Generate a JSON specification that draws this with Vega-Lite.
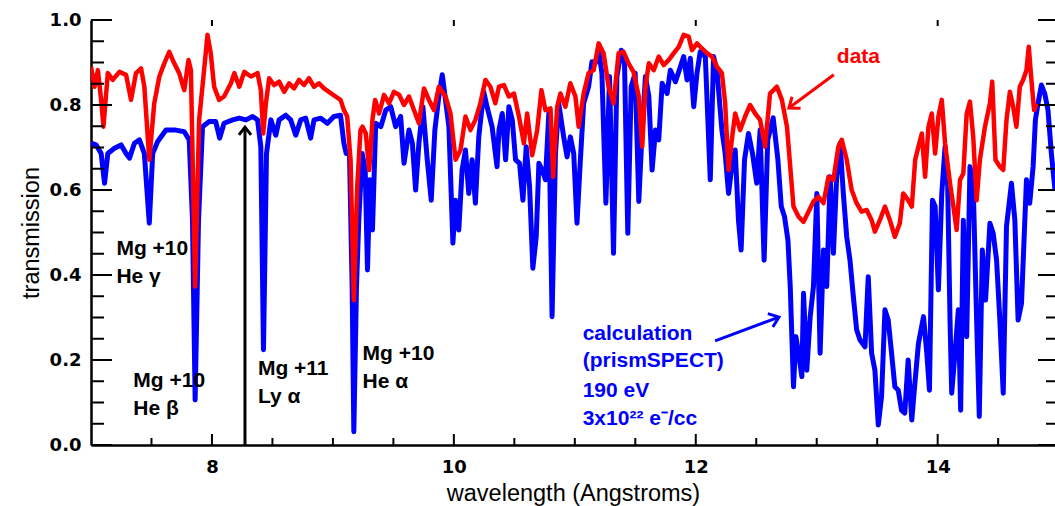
{
"$schema": "https://vega.github.io/schema/vega-lite/v6.json",
"width": 964, "height": 425,
"autosize": {"type": "none"},
"padding": {"left": 91, "top": 20, "right": 0, "bottom": 61},
"background": "white",
"config": {
 "view": {"stroke": null},
 "axis": {"grid": false, "domainColor": "black", "domainWidth": 2.5, "labelFont": "DejaVu Sans", "labelFontWeight": "bold", "labelFontSize": 18, "labelColor": "black", "titleColor": "black", "titleFont": "Liberation Sans", "titleFontWeight": "normal", "titleFontSize": 23.5}
},
"datasets": {
 "data": [
  {"x":7.0,"y":0.89},{"x":7.029,"y":0.843},{"x":7.057,"y":0.882},{"x":7.084,"y":0.812},{"x":7.103,"y":0.749},{"x":7.139,"y":0.875},{"x":7.18,"y":0.859},{"x":7.235,"y":0.878},{"x":7.29,"y":0.871},{"x":7.331,"y":0.812},{"x":7.372,"y":0.875},{"x":7.414,"y":0.886},{"x":7.441,"y":0.843},{"x":7.482,"y":0.671},{"x":7.523,"y":0.804},{"x":7.565,"y":0.867},{"x":7.606,"y":0.898},{"x":7.647,"y":0.925},{"x":7.688,"y":0.898},{"x":7.729,"y":0.875},{"x":7.771,"y":0.835},{"x":7.806,"y":0.906},{"x":7.826,"y":0.882},{"x":7.861,"y":0.373},{"x":7.894,"y":0.765},{"x":7.935,"y":0.882},{"x":7.963,"y":0.965},{"x":7.99,"y":0.922},{"x":8.018,"y":0.843},{"x":8.059,"y":0.812},{"x":8.1,"y":0.82},
  {"x":8.157,"y":0.851},{"x":8.185,"y":0.875},{"x":8.226,"y":0.843},{"x":8.267,"y":0.878},{"x":8.322,"y":0.867},{"x":8.377,"y":0.875},{"x":8.404,"y":0.835},{"x":8.424,"y":0.733},{"x":8.446,"y":0.804},{"x":8.473,"y":0.863},{"x":8.514,"y":0.847},{"x":8.555,"y":0.855},{"x":8.597,"y":0.831},{"x":8.638,"y":0.851},{"x":8.679,"y":0.839},{"x":8.72,"y":0.859},{"x":8.761,"y":0.847},{"x":8.802,"y":0.863},{"x":8.844,"y":0.843},{"x":8.885,"y":0.851},{"x":8.926,"y":0.839},{"x":8.967,"y":0.831},{"x":9.022,"y":0.82},{"x":9.063,"y":0.812},{"x":9.091,"y":0.788},{"x":9.118,"y":0.773},{"x":9.146,"y":0.671},{"x":9.173,"y":0.341},{"x":9.201,"y":0.608},{"x":9.228,"y":0.741},
  {"x":9.245,"y":0.749},{"x":9.272,"y":0.733},{"x":9.3,"y":0.647},{"x":9.327,"y":0.765},{"x":9.349,"y":0.812},{"x":9.382,"y":0.78},{"x":9.423,"y":0.824},{"x":9.464,"y":0.804},{"x":9.505,"y":0.831},{"x":9.547,"y":0.824},{"x":9.588,"y":0.8},{"x":9.629,"y":0.82},{"x":9.67,"y":0.788},{"x":9.711,"y":0.757},{"x":9.753,"y":0.839},{"x":9.794,"y":0.812},{"x":9.835,"y":0.788},{"x":9.876,"y":0.843},{"x":9.931,"y":0.82},{"x":9.972,"y":0.78},{"x":10.014,"y":0.671},{"x":10.055,"y":0.694},{"x":10.096,"y":0.773},{"x":10.137,"y":0.741},{"x":10.178,"y":0.765},{"x":10.219,"y":0.804},{"x":10.261,"y":0.859},{"x":10.302,"y":0.843},{"x":10.343,"y":0.804},
  {"x":10.373,"y":0.843},{"x":10.414,"y":0.847},{"x":10.455,"y":0.82},{"x":10.497,"y":0.827},{"x":10.538,"y":0.773},{"x":10.579,"y":0.71},{"x":10.606,"y":0.78},{"x":10.648,"y":0.682},{"x":10.689,"y":0.741},{"x":10.724,"y":0.835},{"x":10.757,"y":0.788},{"x":10.799,"y":0.792},{"x":10.821,"y":0.631},{"x":10.854,"y":0.796},{"x":10.881,"y":0.827},{"x":10.922,"y":0.796},{"x":10.963,"y":0.851},{"x":11.005,"y":0.82},{"x":11.032,"y":0.749},{"x":11.073,"y":0.827},{"x":11.114,"y":0.875},{"x":11.156,"y":0.882},{"x":11.197,"y":0.945},{"x":11.238,"y":0.922},{"x":11.279,"y":0.843},{"x":11.32,"y":0.804},{"x":11.362,"y":0.922},{"x":11.403,"y":0.925},{"x":11.444,"y":0.898},{"x":11.485,"y":0.878},
  {"x":11.529,"y":0.82},{"x":11.557,"y":0.702},{"x":11.584,"y":0.843},{"x":11.612,"y":0.898},{"x":11.653,"y":0.882},{"x":11.694,"y":0.914},{"x":11.735,"y":0.894},{"x":11.777,"y":0.906},{"x":11.818,"y":0.922},{"x":11.859,"y":0.937},{"x":11.9,"y":0.965},{"x":11.941,"y":0.961},{"x":11.969,"y":0.929},{"x":12.01,"y":0.945},{"x":12.051,"y":0.933},{"x":12.092,"y":0.922},{"x":12.134,"y":0.914},{"x":12.175,"y":0.89},{"x":12.216,"y":0.875},{"x":12.243,"y":0.804},{"x":12.271,"y":0.647},{"x":12.298,"y":0.718},{"x":12.326,"y":0.78},{"x":12.367,"y":0.741},{"x":12.408,"y":0.773},{"x":12.449,"y":0.8},{"x":12.491,"y":0.78},{"x":12.532,"y":0.765},{"x":12.573,"y":0.702},{"x":12.614,"y":0.827},
  {"x":12.671,"y":0.843},{"x":12.712,"y":0.812},{"x":12.754,"y":0.749},{"x":12.781,"y":0.655},{"x":12.808,"y":0.561},{"x":12.85,"y":0.537},{"x":12.891,"y":0.525},{"x":12.932,"y":0.549},{"x":12.973,"y":0.573},{"x":13.014,"y":0.584},{"x":13.056,"y":0.569},{"x":13.097,"y":0.631},{"x":13.138,"y":0.624},{"x":13.179,"y":0.702},{"x":13.207,"y":0.718},{"x":13.248,"y":0.671},{"x":13.289,"y":0.6},{"x":13.33,"y":0.569},{"x":13.371,"y":0.549},{"x":13.413,"y":0.553},{"x":13.454,"y":0.529},{"x":13.481,"y":0.502},{"x":13.522,"y":0.529},{"x":13.564,"y":0.561},{"x":13.605,"y":0.529},{"x":13.646,"y":0.49},{"x":13.687,"y":0.522},{"x":13.715,"y":0.592},{"x":13.756,"y":0.576},
  {"x":13.786,"y":0.561},{"x":13.814,"y":0.671},{"x":13.841,"y":0.702},{"x":13.869,"y":0.733},{"x":13.896,"y":0.631},{"x":13.924,"y":0.749},{"x":13.951,"y":0.78},{"x":13.979,"y":0.686},{"x":14.006,"y":0.773},{"x":14.034,"y":0.812},{"x":14.061,"y":0.71},{"x":14.102,"y":0.616},{"x":14.13,"y":0.561},{"x":14.157,"y":0.506},{"x":14.185,"y":0.624},{"x":14.212,"y":0.639},{"x":14.24,"y":0.78},{"x":14.267,"y":0.808},{"x":14.294,"y":0.725},{"x":14.322,"y":0.576},{"x":14.349,"y":0.671},{"x":14.391,"y":0.749},{"x":14.432,"y":0.804},{"x":14.451,"y":0.855},{"x":14.478,"y":0.671},{"x":14.514,"y":0.655},{"x":14.542,"y":0.647},{"x":14.569,"y":0.765},{"x":14.597,"y":0.831},{"x":14.624,"y":0.796},{"x":14.651,"y":0.749},{"x":14.679,"y":0.843},{"x":14.706,"y":0.859},{"x":14.734,"y":0.882},{"x":14.753,"y":0.937},{"x":14.775,"y":0.859},{"x":14.797,"y":0.788},{"x":14.816,"y":0.804}
 ],
 "calc": [
  {"x":7.0,"y":0.71},{"x":7.043,"y":0.706},{"x":7.084,"y":0.686},{"x":7.112,"y":0.616},{"x":7.139,"y":0.686},{"x":7.194,"y":0.698},{"x":7.249,"y":0.706},{"x":7.29,"y":0.686},{"x":7.318,"y":0.675},{"x":7.359,"y":0.71},{"x":7.4,"y":0.718},{"x":7.441,"y":0.686},{"x":7.482,"y":0.522},{"x":7.51,"y":0.686},{"x":7.551,"y":0.714},{"x":7.62,"y":0.741},{"x":7.702,"y":0.741},{"x":7.771,"y":0.737},{"x":7.812,"y":0.718},{"x":7.839,"y":0.529},{"x":7.861,"y":0.106},{"x":7.889,"y":0.529},{"x":7.922,"y":0.749},{"x":7.977,"y":0.761},{"x":8.031,"y":0.761},{"x":8.064,"y":0.722},{"x":8.1,"y":0.757},
  {"x":8.171,"y":0.765},{"x":8.226,"y":0.769},{"x":8.281,"y":0.765},{"x":8.336,"y":0.773},{"x":8.377,"y":0.765},{"x":8.404,"y":0.702},{"x":8.426,"y":0.224},{"x":8.451,"y":0.686},{"x":8.487,"y":0.765},{"x":8.528,"y":0.729},{"x":8.555,"y":0.765},{"x":8.61,"y":0.776},{"x":8.651,"y":0.765},{"x":8.693,"y":0.729},{"x":8.734,"y":0.765},{"x":8.775,"y":0.769},{"x":8.816,"y":0.722},{"x":8.844,"y":0.765},{"x":8.899,"y":0.769},{"x":8.954,"y":0.757},{"x":9.008,"y":0.773},{"x":9.063,"y":0.776},{"x":9.091,"y":0.71},{"x":9.11,"y":0.686},{"x":9.137,"y":0.686},{"x":9.159,"y":0.373},{"x":9.173,"y":0.031},{"x":9.195,"y":0.373},{"x":9.214,"y":0.529},{"x":9.242,"y":0.686},
  {"x":9.267,"y":0.647},{"x":9.286,"y":0.412},{"x":9.305,"y":0.624},{"x":9.327,"y":0.506},{"x":9.354,"y":0.757},{"x":9.396,"y":0.749},{"x":9.437,"y":0.788},{"x":9.478,"y":0.796},{"x":9.519,"y":0.749},{"x":9.56,"y":0.773},{"x":9.588,"y":0.663},{"x":9.629,"y":0.741},{"x":9.657,"y":0.71},{"x":9.684,"y":0.6},{"x":9.711,"y":0.71},{"x":9.744,"y":0.796},{"x":9.78,"y":0.671},{"x":9.813,"y":0.576},{"x":9.843,"y":0.741},{"x":9.876,"y":0.82},{"x":9.904,"y":0.871},{"x":9.931,"y":0.812},{"x":9.959,"y":0.749},{"x":9.992,"y":0.475},{"x":10.014,"y":0.576},{"x":10.041,"y":0.506},{"x":10.068,"y":0.647},{"x":10.096,"y":0.694},{"x":10.123,"y":0.592},{"x":10.151,"y":0.671},{"x":10.178,"y":0.569},{"x":10.206,"y":0.725},{"x":10.247,"y":0.831},{"x":10.274,"y":0.796},{"x":10.316,"y":0.749},{"x":10.357,"y":0.655},
  {"x":10.373,"y":0.741},{"x":10.4,"y":0.78},{"x":10.428,"y":0.671},{"x":10.455,"y":0.796},{"x":10.483,"y":0.765},{"x":10.51,"y":0.671},{"x":10.543,"y":0.663},{"x":10.571,"y":0.576},{"x":10.598,"y":0.702},{"x":10.626,"y":0.608},{"x":10.653,"y":0.416},{"x":10.681,"y":0.49},{"x":10.703,"y":0.663},{"x":10.73,"y":0.647},{"x":10.757,"y":0.624},{"x":10.785,"y":0.78},{"x":10.812,"y":0.302},{"x":10.84,"y":0.686},{"x":10.867,"y":0.804},{"x":10.908,"y":0.725},{"x":10.936,"y":0.678},{"x":10.963,"y":0.725},{"x":10.991,"y":0.686},{"x":11.018,"y":0.522},{"x":11.046,"y":0.671},{"x":11.073,"y":0.804},{"x":11.114,"y":0.843},{"x":11.142,"y":0.902},{"x":11.169,"y":0.898},{"x":11.197,"y":0.929},{"x":11.224,"y":0.875},{"x":11.257,"y":0.569},{"x":11.287,"y":0.867},{"x":11.32,"y":0.451},{"x":11.348,"y":0.867},{"x":11.384,"y":0.929},{"x":11.411,"y":0.898},{"x":11.438,"y":0.498},{"x":11.466,"y":0.843},{"x":11.499,"y":0.875},
  {"x":11.529,"y":0.573},{"x":11.557,"y":0.741},{"x":11.584,"y":0.867},{"x":11.612,"y":0.82},{"x":11.639,"y":0.647},{"x":11.667,"y":0.741},{"x":11.694,"y":0.718},{"x":11.722,"y":0.851},{"x":11.763,"y":0.827},{"x":11.79,"y":0.882},{"x":11.832,"y":0.855},{"x":11.873,"y":0.89},{"x":11.9,"y":0.914},{"x":11.928,"y":0.859},{"x":11.955,"y":0.91},{"x":11.983,"y":0.796},{"x":12.01,"y":0.875},{"x":12.037,"y":0.925},{"x":12.079,"y":0.914},{"x":12.12,"y":0.624},{"x":12.147,"y":0.914},{"x":12.175,"y":0.882},{"x":12.216,"y":0.741},{"x":12.243,"y":0.686},{"x":12.271,"y":0.592},{"x":12.298,"y":0.655},{"x":12.326,"y":0.694},{"x":12.353,"y":0.529},{"x":12.375,"y":0.459},{"x":12.403,"y":0.671},{"x":12.436,"y":0.733},{"x":12.469,"y":0.686},{"x":12.504,"y":0.616},{"x":12.532,"y":0.741},{"x":12.565,"y":0.435},{"x":12.595,"y":0.718},{"x":12.64,"y":0.77},
  {"x":12.679,"y":0.671},{"x":12.707,"y":0.561},{"x":12.734,"y":0.537},{"x":12.762,"y":0.482},{"x":12.781,"y":0.373},{"x":12.808,"y":0.137},{"x":12.828,"y":0.255},{"x":12.85,"y":0.216},{"x":12.877,"y":0.161},{"x":12.891,"y":0.357},{"x":12.918,"y":0.176},{"x":12.946,"y":0.302},{"x":12.973,"y":0.373},{"x":13.001,"y":0.592},{"x":13.028,"y":0.216},{"x":13.056,"y":0.459},{"x":13.083,"y":0.373},{"x":13.111,"y":0.631},{"x":13.138,"y":0.451},{"x":13.165,"y":0.631},{"x":13.193,"y":0.71},{"x":13.22,"y":0.592},{"x":13.248,"y":0.49},{"x":13.275,"y":0.435},{"x":13.303,"y":0.349},{"x":13.33,"y":0.271},{"x":13.358,"y":0.247},{"x":13.399,"y":0.231},{"x":13.426,"y":0.396},{"x":13.454,"y":0.216},{"x":13.481,"y":0.176},{"x":13.509,"y":0.047},{"x":13.536,"y":0.114},{"x":13.564,"y":0.318},{"x":13.591,"y":0.294},{"x":13.619,"y":0.216},{"x":13.646,"y":0.137},{"x":13.674,"y":0.129},{"x":13.701,"y":0.082},{"x":13.728,"y":0.075},{"x":13.756,"y":0.2},
  {"x":13.786,"y":0.059},{"x":13.814,"y":0.153},{"x":13.841,"y":0.239},{"x":13.883,"y":0.302},{"x":13.91,"y":0.216},{"x":13.932,"y":0.129},{"x":13.957,"y":0.576},{"x":13.979,"y":0.561},{"x":14.006,"y":0.365},{"x":14.034,"y":0.592},{"x":14.061,"y":0.702},{"x":14.083,"y":0.608},{"x":14.102,"y":0.294},{"x":14.116,"y":0.122},{"x":14.143,"y":0.216},{"x":14.171,"y":0.318},{"x":14.19,"y":0.082},{"x":14.212,"y":0.529},{"x":14.24,"y":0.255},{"x":14.267,"y":0.655},{"x":14.294,"y":0.608},{"x":14.322,"y":0.294},{"x":14.344,"y":0.067},{"x":14.369,"y":0.459},{"x":14.396,"y":0.341},{"x":14.432,"y":0.522},{"x":14.459,"y":0.498},{"x":14.487,"y":0.435},{"x":14.514,"y":0.294},{"x":14.542,"y":0.122},{"x":14.569,"y":0.514},{"x":14.61,"y":0.616},{"x":14.638,"y":0.529},{"x":14.665,"y":0.294},{"x":14.693,"y":0.333},{"x":14.734,"y":0.624},{"x":14.761,"y":0.569},{"x":14.789,"y":0.655},{"x":14.808,"y":0.765},{"x":14.83,"y":0.804},{"x":14.858,"y":0.847},{"x":14.885,"y":0.827},{"x":14.912,"y":0.788},{"x":14.94,"y":0.686},{"x":14.97,"y":0.6}
 ],
 "lines": [
  {"t":"Mg +10","x":7.21,"y":0.447},{"t":"He γ","x":7.21,"y":0.381},
  {"t":"Mg +10","x":7.35,"y":0.136},{"t":"He β","x":7.35,"y":0.071},
  {"t":"Mg +11","x":8.38,"y":0.165},{"t":"Ly α","x":8.38,"y":0.099},
  {"t":"Mg +10","x":9.245,"y":0.2},{"t":"He α","x":9.245,"y":0.134}
 ],
 "calcText": [
  {"t":"calculation","x":11.065,"y":0.247},{"t":"(prismSPECT)","x":11.065,"y":0.184},{"t":"190 eV","x":11.065,"y":0.113},{"t":"3x10²² e⁻/cc","x":11.065,"y":0.047}
 ],
 "dataText": [{"t":"data","x":13.166,"y":0.899}],
 "arrows": [
  {"a":"data","x":13.141,"y":0.871,"x2":12.77,"y2":0.793},
  {"a":"calc","x":12.16,"y":0.245,"x2":12.688,"y2":0.301},
  {"a":"line","x":8.273,"y":0.0,"x2":8.273,"y2":0.748}
 ],
 "xMaj": [{"v":8},{"v":10},{"v":12},{"v":14}],
 "xMin": [{"v":7.5},{"v":8.5},{"v":9},{"v":9.5},{"v":10.5},{"v":11},{"v":11.5},{"v":12.5},{"v":13},{"v":13.5},{"v":14.5}],
 "yMaj": [{"v":0},{"v":0.2},{"v":0.4},{"v":0.6},{"v":0.8},{"v":1.0}],
 "yMin": [{"v":0.05},{"v":0.1},{"v":0.15},{"v":0.25},{"v":0.3},{"v":0.35},{"v":0.45},{"v":0.5},{"v":0.55},{"v":0.65},{"v":0.7},{"v":0.75},{"v":0.85},{"v":0.9},{"v":0.95}]
},
"layer": [
 {"data": {"name": "calc"},
  "mark": {"type": "line", "color": "#0000ff", "strokeWidth": 5, "strokeJoin": "round", "clip": true},
  "encoding": {
   "x": {"field": "x", "type": "quantitative", "scale": {"domain": [7, 14.97], "nice": false, "zero": false},
     "axis": {"orient": "bottom", "values": [8, 10, 12, 14], "format": "d", "ticks": false, "labelPadding": 13, "title": "wavelength (Angstroms)", "titlePadding": 5}},
   "y": {"field": "y", "type": "quantitative", "scale": {"domain": [0, 1], "nice": false, "zero": false},
     "axis": {"orient": "left", "values": [0, 0.2, 0.4, 0.6, 0.8, 1.0], "format": ".1f", "ticks": false, "labelPadding": 10, "title": "transmission", "titlePadding": 6}}
  }},
 {"data": {"name": "data"},
  "mark": {"type": "line", "color": "#ff0000", "strokeWidth": 4.5, "strokeJoin": "round", "clip": true},
  "encoding": {
   "x": {"field": "x", "type": "quantitative"},
   "y": {"field": "y", "type": "quantitative"}
  }},
 {"data": {"name": "xMaj"},
  "mark": {"type": "tick", "orient": "vertical", "size": 11, "thickness": 2, "color": "black", "yOffset": -5.5, "opacity": 1},
  "encoding": {"x": {"field": "v", "type": "quantitative"}, "y": {"datum": 0, "type": "quantitative"}}},
 {"data": {"name": "xMin"},
  "mark": {"type": "tick", "orient": "vertical", "size": 7, "thickness": 2, "color": "black", "yOffset": -3.5, "opacity": 1},
  "encoding": {"x": {"field": "v", "type": "quantitative"}, "y": {"datum": 0, "type": "quantitative"}}},
 {"data": {"name": "xMaj"},
  "mark": {"type": "tick", "orient": "vertical", "size": 6, "thickness": 2, "color": "black", "yOffset": 3, "opacity": 1},
  "encoding": {"x": {"field": "v", "type": "quantitative"}, "y": {"datum": 1, "type": "quantitative"}}},
 {"data": {"name": "yMaj"},
  "mark": {"type": "tick", "orient": "horizontal", "size": 21, "thickness": 2, "color": "black", "xOffset": 10.5, "opacity": 1},
  "encoding": {"y": {"field": "v", "type": "quantitative"}, "x": {"datum": 7, "type": "quantitative"}}},
 {"data": {"name": "yMin"},
  "mark": {"type": "tick", "orient": "horizontal", "size": 13, "thickness": 2, "color": "black", "xOffset": 6.5, "opacity": 1},
  "encoding": {"y": {"field": "v", "type": "quantitative"}, "x": {"datum": 7, "type": "quantitative"}}},
 {"data": {"name": "yMaj"},
  "mark": {"type": "tick", "orient": "horizontal", "size": 17, "thickness": 2, "color": "black", "xOffset": -8.5, "opacity": 1},
  "encoding": {"y": {"field": "v", "type": "quantitative"}, "x": {"datum": 14.97, "type": "quantitative"}}},
 {"data": {"name": "yMin"},
  "mark": {"type": "tick", "orient": "horizontal", "size": 9, "thickness": 2, "color": "black", "xOffset": -4.5, "opacity": 1},
  "encoding": {"y": {"field": "v", "type": "quantitative"}, "x": {"datum": 14.97, "type": "quantitative"}}},
 {"data": {"name": "lines"},
  "mark": {"type": "text", "align": "left", "baseline": "alphabetic", "font": "Liberation Sans", "fontWeight": "bold", "fontSize": 21, "color": "black"},
  "encoding": {"x": {"field": "x", "type": "quantitative"}, "y": {"field": "y", "type": "quantitative"}, "text": {"field": "t"}}},
 {"data": {"name": "calcText"},
  "mark": {"type": "text", "align": "left", "baseline": "alphabetic", "font": "Liberation Sans", "fontWeight": "bold", "fontSize": 21, "color": "#0000ff"},
  "encoding": {"x": {"field": "x", "type": "quantitative"}, "y": {"field": "y", "type": "quantitative"}, "text": {"field": "t"}}},
 {"data": {"name": "dataText"},
  "mark": {"type": "text", "align": "left", "baseline": "alphabetic", "font": "Liberation Sans", "fontWeight": "bold", "fontSize": 21, "color": "#ff0000"},
  "encoding": {"x": {"field": "x", "type": "quantitative"}, "y": {"field": "y", "type": "quantitative"}, "text": {"field": "t"}}},
 {"data": {"name": "arrows"},
  "mark": {"type": "rule", "strokeWidth": 3},
  "encoding": {
   "x": {"field": "x", "type": "quantitative"},
   "y": {"field": "y", "type": "quantitative"},
   "x2": {"field": "x2"},
   "y2": {"field": "y2"},
   "color": {"field": "a", "type": "nominal", "scale": {"domain": ["data", "calc", "line"], "range": ["#ff0000", "#0000ff", "#000000"]}, "legend": null}
  }},
 {"data": {"name": "arrows"},
  "transform": [{"filter": "datum.a == 'data'"}],
  "mark": {"type": "point", "shape": "M-0.7,0.9L0,0L0.7,0.9", "filled": false, "strokeWidth": 3, "size": 420, "angle": 233.5, "color": "#ff0000", "opacity": 1},
  "encoding": {"x": {"field": "x2", "type": "quantitative"}, "y": {"field": "y2", "type": "quantitative"}}},
 {"data": {"name": "arrows"},
  "transform": [{"filter": "datum.a == 'calc'"}],
  "mark": {"type": "point", "shape": "M-0.7,0.9L0,0L0.7,0.9", "filled": false, "strokeWidth": 3, "size": 420, "angle": 69.6, "color": "#0000ff", "opacity": 1},
  "encoding": {"x": {"field": "x2", "type": "quantitative"}, "y": {"field": "y2", "type": "quantitative"}}},
 {"data": {"name": "arrows"},
  "transform": [{"filter": "datum.a == 'line'"}],
  "mark": {"type": "point", "shape": "M-0.7,0.9L0,0L0.7,0.9", "filled": false, "strokeWidth": 3, "size": 300, "angle": 0, "color": "#000000", "opacity": 1},
  "encoding": {"x": {"field": "x2", "type": "quantitative"}, "y": {"field": "y2", "type": "quantitative"}}}
]
}
